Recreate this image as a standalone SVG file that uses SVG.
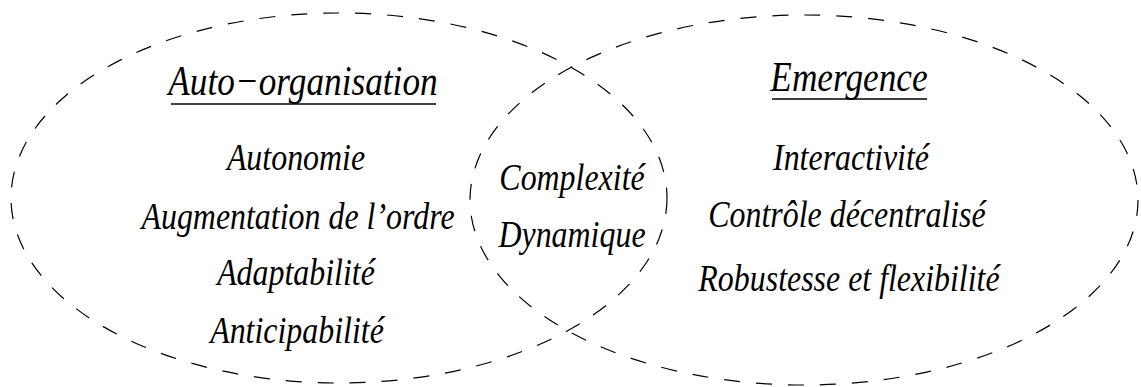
<svg xmlns="http://www.w3.org/2000/svg" width="1141" height="387" viewBox="0 0 1141 387">
  <style>
    .set { fill: none; stroke: #000; stroke-width: 1.2; stroke-dasharray: 16 16; }
    .lbl { font-family: "Liberation Serif", "Times New Roman", serif; font-style: italic; font-size: 38px; fill: #000; text-anchor: middle; }
    .head { font-size: 42px; }
    .ul { stroke: #000; stroke-width: 1.5; }
  </style>
  <rect width="1141" height="387" fill="#fff"/>

  <!-- dashed set boundaries -->
  <g id="connectors">
    <ellipse id="set-left" class="set" cx="339" cy="198" rx="328" ry="185"/>
    <ellipse id="set-right" class="set" cx="804" cy="200" rx="334" ry="185"/>
  </g>

  <!-- left set: self-organisation -->
  <g id="node-auto-organisation">
    <text class="lbl head" transform="translate(303 95) scale(0.84 1)">Auto−organisation</text>
    <line class="ul" x1="171" y1="104" x2="436" y2="104"/>
  </g>
  <g id="node-autonomie">
    <text class="lbl" transform="translate(296 170) scale(0.84 1)">Autonomie</text>
  </g>
  <g id="node-augmentation">
    <text class="lbl" transform="translate(298 229) scale(0.84 1)">Augmentation de l’ordre</text>
  </g>
  <g id="node-adaptabilite">
    <text class="lbl" transform="translate(296 285) scale(0.84 1)">Adaptabilité</text>
  </g>
  <g id="node-anticipabilite">
    <text class="lbl" transform="translate(297 343) scale(0.84 1)">Anticipabilité</text>
  </g>

  <!-- shared properties -->
  <g id="node-complexite">
    <text class="lbl" transform="translate(572 190) scale(0.84 1)">Complexité</text>
  </g>
  <g id="node-dynamique">
    <text class="lbl" transform="translate(572 247) scale(0.84 1)">Dynamique</text>
  </g>

  <!-- right set: emergence -->
  <g id="node-emergence">
    <text class="lbl head" transform="translate(849 91) scale(0.84 1)">Emergence</text>
    <line class="ul" x1="772" y1="99" x2="927" y2="99"/>
  </g>
  <g id="node-interactivite">
    <text class="lbl" transform="translate(851 170) scale(0.84 1)">Interactivité</text>
  </g>
  <g id="node-controle">
    <text class="lbl" transform="translate(847 227) scale(0.84 1)">Contrôle décentralisé</text>
  </g>
  <g id="node-robustesse">
    <text class="lbl" transform="translate(849 291) scale(0.84 1)">Robustesse et flexibilité</text>
  </g>
</svg>
